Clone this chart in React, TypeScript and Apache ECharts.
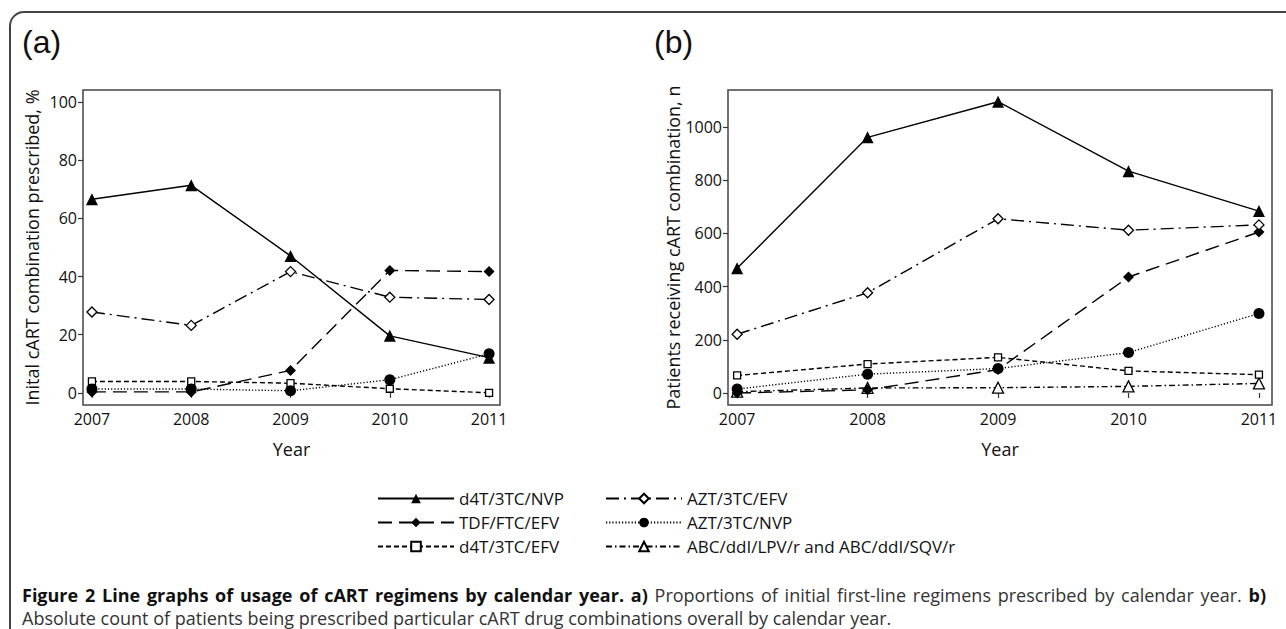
import React, { useEffect, useRef } from "react";
import * as echarts from "echarts";

const years = [2007, 2008, 2009, 2010, 2011];

const seriesNames = [
  "d4T/3TC/NVP",
  "AZT/3TC/EFV",
  "TDF/FTC/EFV",
  "AZT/3TC/NVP",
  "d4T/3TC/EFV",
  "ABC/ddI/LPV/r and ABC/ddI/SQV/r",
];

// Panel (a): % of initial cART combination prescribed
const pctD4tNvp = [66.6, 71.4, 47.1, 19.6, 12.1];
const pctAztEfv = [27.8, 23.2, 41.7, 32.9, 32.1];
const pctTdfEfv = [0.3, 0.3, 7.7, 42.1, 41.7];
const pctAztNvp = [1.3, 1.3, 0.7, 4.5, 13.4];
const pctD4tEfv = [3.9, 3.9, 3.3, 1.4, 0.0];

// Panel (b): patients receiving cART combination, n
const nD4tNvp = [469, 961, 1095, 834, 684];
const nAztEfv = [221, 377, 655, 612, 632];
const nTdfEfv = [0, 12, 88, 436, 605];
const nAztNvp = [15, 71, 92, 152, 299];
const nD4tEfv = [66, 109, 134, 83, 69];
const nAbc = [5, 19, 20, 25, 36];

const pctTicks = [0, 20, 40, 60, 80, 100];
const nTicks = [0, 200, 400, 600, 800, 1000];

const captionBold1 = "Figure 2 Line graphs of usage of cART regimens by calendar year. a)";
const captionNormal1 = "Proportions of initial first-line regimens prescribed by calendar year.";
const captionBold2 = "b)";
const captionLine2 = "Absolute count of patients being prescribed particular cART drug combinations overall by calendar year.";

const FONT = "Open Sans";

const styles: Record<string, any> = {
  "d4T/3TC/NVP": { symbol: "triangle", symbolSize: 12, dash: "solid", fill: "#000" },
  "AZT/3TC/EFV": { symbol: "diamond", symbolSize: 10, dash: [13, 5, 2, 5], fill: "#fff" },
  "TDF/FTC/EFV": { symbol: "diamond", symbolSize: 11, dash: [14, 7], fill: "#000" },
  "AZT/3TC/NVP": { symbol: "circle", symbolSize: 11, dash: [1.2, 2], fill: "#000" },
  "d4T/3TC/EFV": { symbol: "rect", symbolSize: 7, dash: [5, 3], fill: "#fff" },
  "ABC/ddI/LPV/r and ABC/ddI/SQV/r": { symbol: "triangle", symbolSize: 11, dash: [6, 3, 1.5, 3], fill: "#fff" },
};

function mk(name: string, vals: number[], idx: number) {
  const s = styles[name];
  return {
    type: "line",
    name,
    xAxisIndex: idx,
    yAxisIndex: idx,
    data: years.map((y, i) => [y, vals[i]]),
    symbol: s.symbol,
    symbolSize: s.symbolSize,
    showAllSymbol: true,
    lineStyle: { color: "#000", width: 1.4, type: s.dash },
    itemStyle: { color: s.fill, borderColor: "#000", borderWidth: s.fill === "#fff" ? 1.3 : 0 },
    emphasis: { disabled: true },
    z: 3,
  };
}

function justifiedLine(x0: number, x1: number, y: number, size: number) {
  const canvas = document.createElement("canvas");
  const ctx = canvas.getContext("2d")!;
  const words: { w: string; bold: boolean }[] = [];
  captionBold1.split(" ").forEach((w) => words.push({ w, bold: true }));
  captionNormal1.split(" ").forEach((w) => words.push({ w, bold: false }));
  captionBold2.split(" ").forEach((w) => words.push({ w, bold: true }));
  const widths = words.map((o) => {
    ctx.font = `${o.bold ? "bold " : ""}${size}px "${FONT}"`;
    return ctx.measureText(o.w).width;
  });
  const total = widths.reduce((a, b) => a + b, 0);
  const gap = (x1 - x0 - total) / (words.length - 1);
  let x = x0;
  return words.map((o, i) => {
    const el = {
      type: "text",
      x,
      y,
      style: {
        text: o.w,
        font: `${o.bold ? "bold " : ""}${size}px "${FONT}"`,
        fill: o.bold ? "#111" : "#333",
        textVerticalAlign: "middle",
      },
    };
    x += widths[i] + gap;
    return el;
  });
}

export default function App() {
  const ref = useRef<HTMLDivElement>(null);
  useEffect(() => {
    if (!ref.current) return;
    const chart = echarts.init(ref.current, null, { renderer: "svg" });
    const axisLabel = (vals: number[]) => ({
      customValues: vals,
      fontFamily: FONT,
      fontSize: 16,
      color: "#111",
      margin: 6,
      formatter: (v: number) => String(v),
    });
    const axisTick = (vals: number[]) => ({
      show: true,
      customValues: vals,
      inside: false,
      length: 5,
      lineStyle: { color: "#333", width: 1.2 },
    });
    const nameStyle = { fontFamily: FONT, fontSize: 18, color: "#111" };
    const legendText = { fontFamily: FONT, fontSize: 17, color: "#111" };
    chart.setOption({
      animation: false,
      backgroundColor: "#fff",
      grid: [
        { left: 83, top: 90, width: 417, height: 315, show: true, borderColor: "#444", borderWidth: 1.5, backgroundColor: "transparent" },
        { left: 728, top: 90, width: 544, height: 315, show: true, borderColor: "#444", borderWidth: 1.5, backgroundColor: "transparent" },
      ],
      xAxis: [
        {
          type: "value", gridIndex: 0, min: 2006.91, max: 2011.11,
          axisLine: { show: false }, splitLine: { show: false },
          axisTick: axisTick(years), axisLabel: axisLabel(years),
          name: "Year", nameLocation: "middle", nameGap: 35, nameTextStyle: nameStyle,
        },
        {
          type: "value", gridIndex: 1, min: 2006.93, max: 2011.1,
          axisLine: { show: false }, splitLine: { show: false },
          axisTick: axisTick(years), axisLabel: axisLabel(years),
          name: "Year", nameLocation: "middle", nameGap: 35, nameTextStyle: nameStyle,
        },
      ],
      yAxis: [
        {
          type: "value", gridIndex: 0, min: -4.2, max: 104.2,
          axisLine: { show: false }, splitLine: { show: false },
          axisTick: axisTick(pctTicks), axisLabel: axisLabel(pctTicks),
          name: "Inital cART combination prescribed, %", nameLocation: "middle", nameGap: 42, nameRotate: 90, nameTextStyle: nameStyle,
        },
        {
          type: "value", gridIndex: 1, min: -45, max: 1139,
          axisLine: { show: false }, splitLine: { show: false },
          axisTick: axisTick(nTicks), axisLabel: axisLabel(nTicks),
          name: "Patients receiving cART combination, n", nameLocation: "middle", nameGap: 31, nameRotate: 90, nameTextStyle: nameStyle,
        },
      ],
      legend: [
        {
          orient: "vertical", left: 372, top: 485, itemWidth: 76, itemHeight: 12, itemGap: 7,
          selectedMode: false, textStyle: legendText,
          data: [seriesNames[0], seriesNames[2], seriesNames[4]],
        },
        {
          orient: "vertical", left: 600, top: 485, itemWidth: 76, itemHeight: 12, itemGap: 7,
          selectedMode: false, textStyle: legendText,
          data: [seriesNames[1], seriesNames[3], seriesNames[5]],
        },
      ],
      series: [
        mk(seriesNames[4], pctD4tEfv, 0),
        mk(seriesNames[3], pctAztNvp, 0),
        mk(seriesNames[2], pctTdfEfv, 0),
        mk(seriesNames[1], pctAztEfv, 0),
        mk(seriesNames[0], pctD4tNvp, 0),
        mk(seriesNames[5], nAbc, 1),
        mk(seriesNames[4], nD4tEfv, 1),
        mk(seriesNames[3], nAztNvp, 1),
        mk(seriesNames[2], nTdfEfv, 1),
        mk(seriesNames[1], nAztEfv, 1),
        mk(seriesNames[0], nD4tNvp, 1),
      ],
      graphic: [
        { type: "rect", shape: { x: 10, y: 12, width: 1300, height: 640, r: 14 }, style: { fill: "none", stroke: "#444", lineWidth: 2 }, silent: true },
        { type: "text", x: 22, y: 26, style: { text: "(a)", font: '32px "Liberation Sans"', fill: "#111" } },
        { type: "text", x: 654, y: 26, style: { text: "(b)", font: '32px "Liberation Sans"', fill: "#111" } },
        ...justifiedLine(22, 1266, 595, 18),
        {
          type: "text", x: 22, y: 618,
          style: { text: captionLine2, font: `18px "${FONT}"`, fill: "#333", textVerticalAlign: "middle" },
        },
      ],
    });
    return () => chart.dispose();
  }, []);
  return <div ref={ref} style={{ position: "fixed", left: 0, top: 0, width: 1286, height: 629 }} />;
}
